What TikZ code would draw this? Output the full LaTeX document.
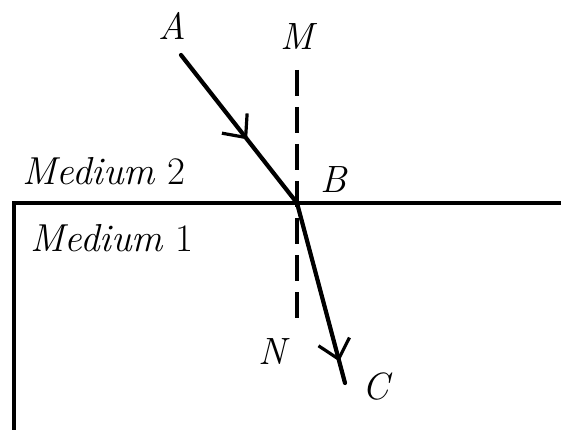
\documentclass[tikz,border=0pt]{standalone}
\usepackage{fontspec}
\usetikzlibrary{arrows.meta,decorations.markings}
\begin{document}
\begin{tikzpicture}[x=1pt,y=-1pt,
  ray/.style={line width=4.2pt,line cap=round,
    postaction={decorate},
    decoration={markings,mark=at position #1 with {\arrow{Straight Barb[length=18pt,width=32pt,line width=3.2pt]}}}},
  surface/.style={line width=3.8pt},
  normal/.style={line width=3.6pt,dash pattern=on 26pt off 11pt},
  lbl/.style={font=\fontsize{38}{44}\selectfont\itshape,inner sep=0pt},
  medium/.style={font=\fontsize{39}{44}\selectfont,inner sep=0pt,anchor=west}]
\useasboundingbox (0,0) rectangle (561,430);
\coordinate (A) at (181,55);
\coordinate (B) at (297,203);
\coordinate (C) at (345,383);
\coordinate (M) at (297,70);
\coordinate (N) at (297,328);
\coordinate (L) at (14,203);
\coordinate (R) at (561,203);
\coordinate (Lb) at (14,430);
\draw[surface] (Lb) -- (L) -- (R);
\draw[normal] (M) -- (N);
\draw[ray=0.57] (A) -- (B);
\draw[ray=0.88] (B) -- (C);
\node[lbl] (lA) at (172,26) {A};
\node[lbl] (lM) at (297,37) {M};
\node[lbl] (lB) at (334,180) {B};
\node[lbl] (lN) at (272,352) {N};
\node[lbl] (lC) at (376,387) {C};
\node[medium] (m2) at (22,171) {\textit{Medium} 2};
\node[medium] (m1) at (30,238) {\textit{Medium} 1};
\end{tikzpicture}
\end{document}
